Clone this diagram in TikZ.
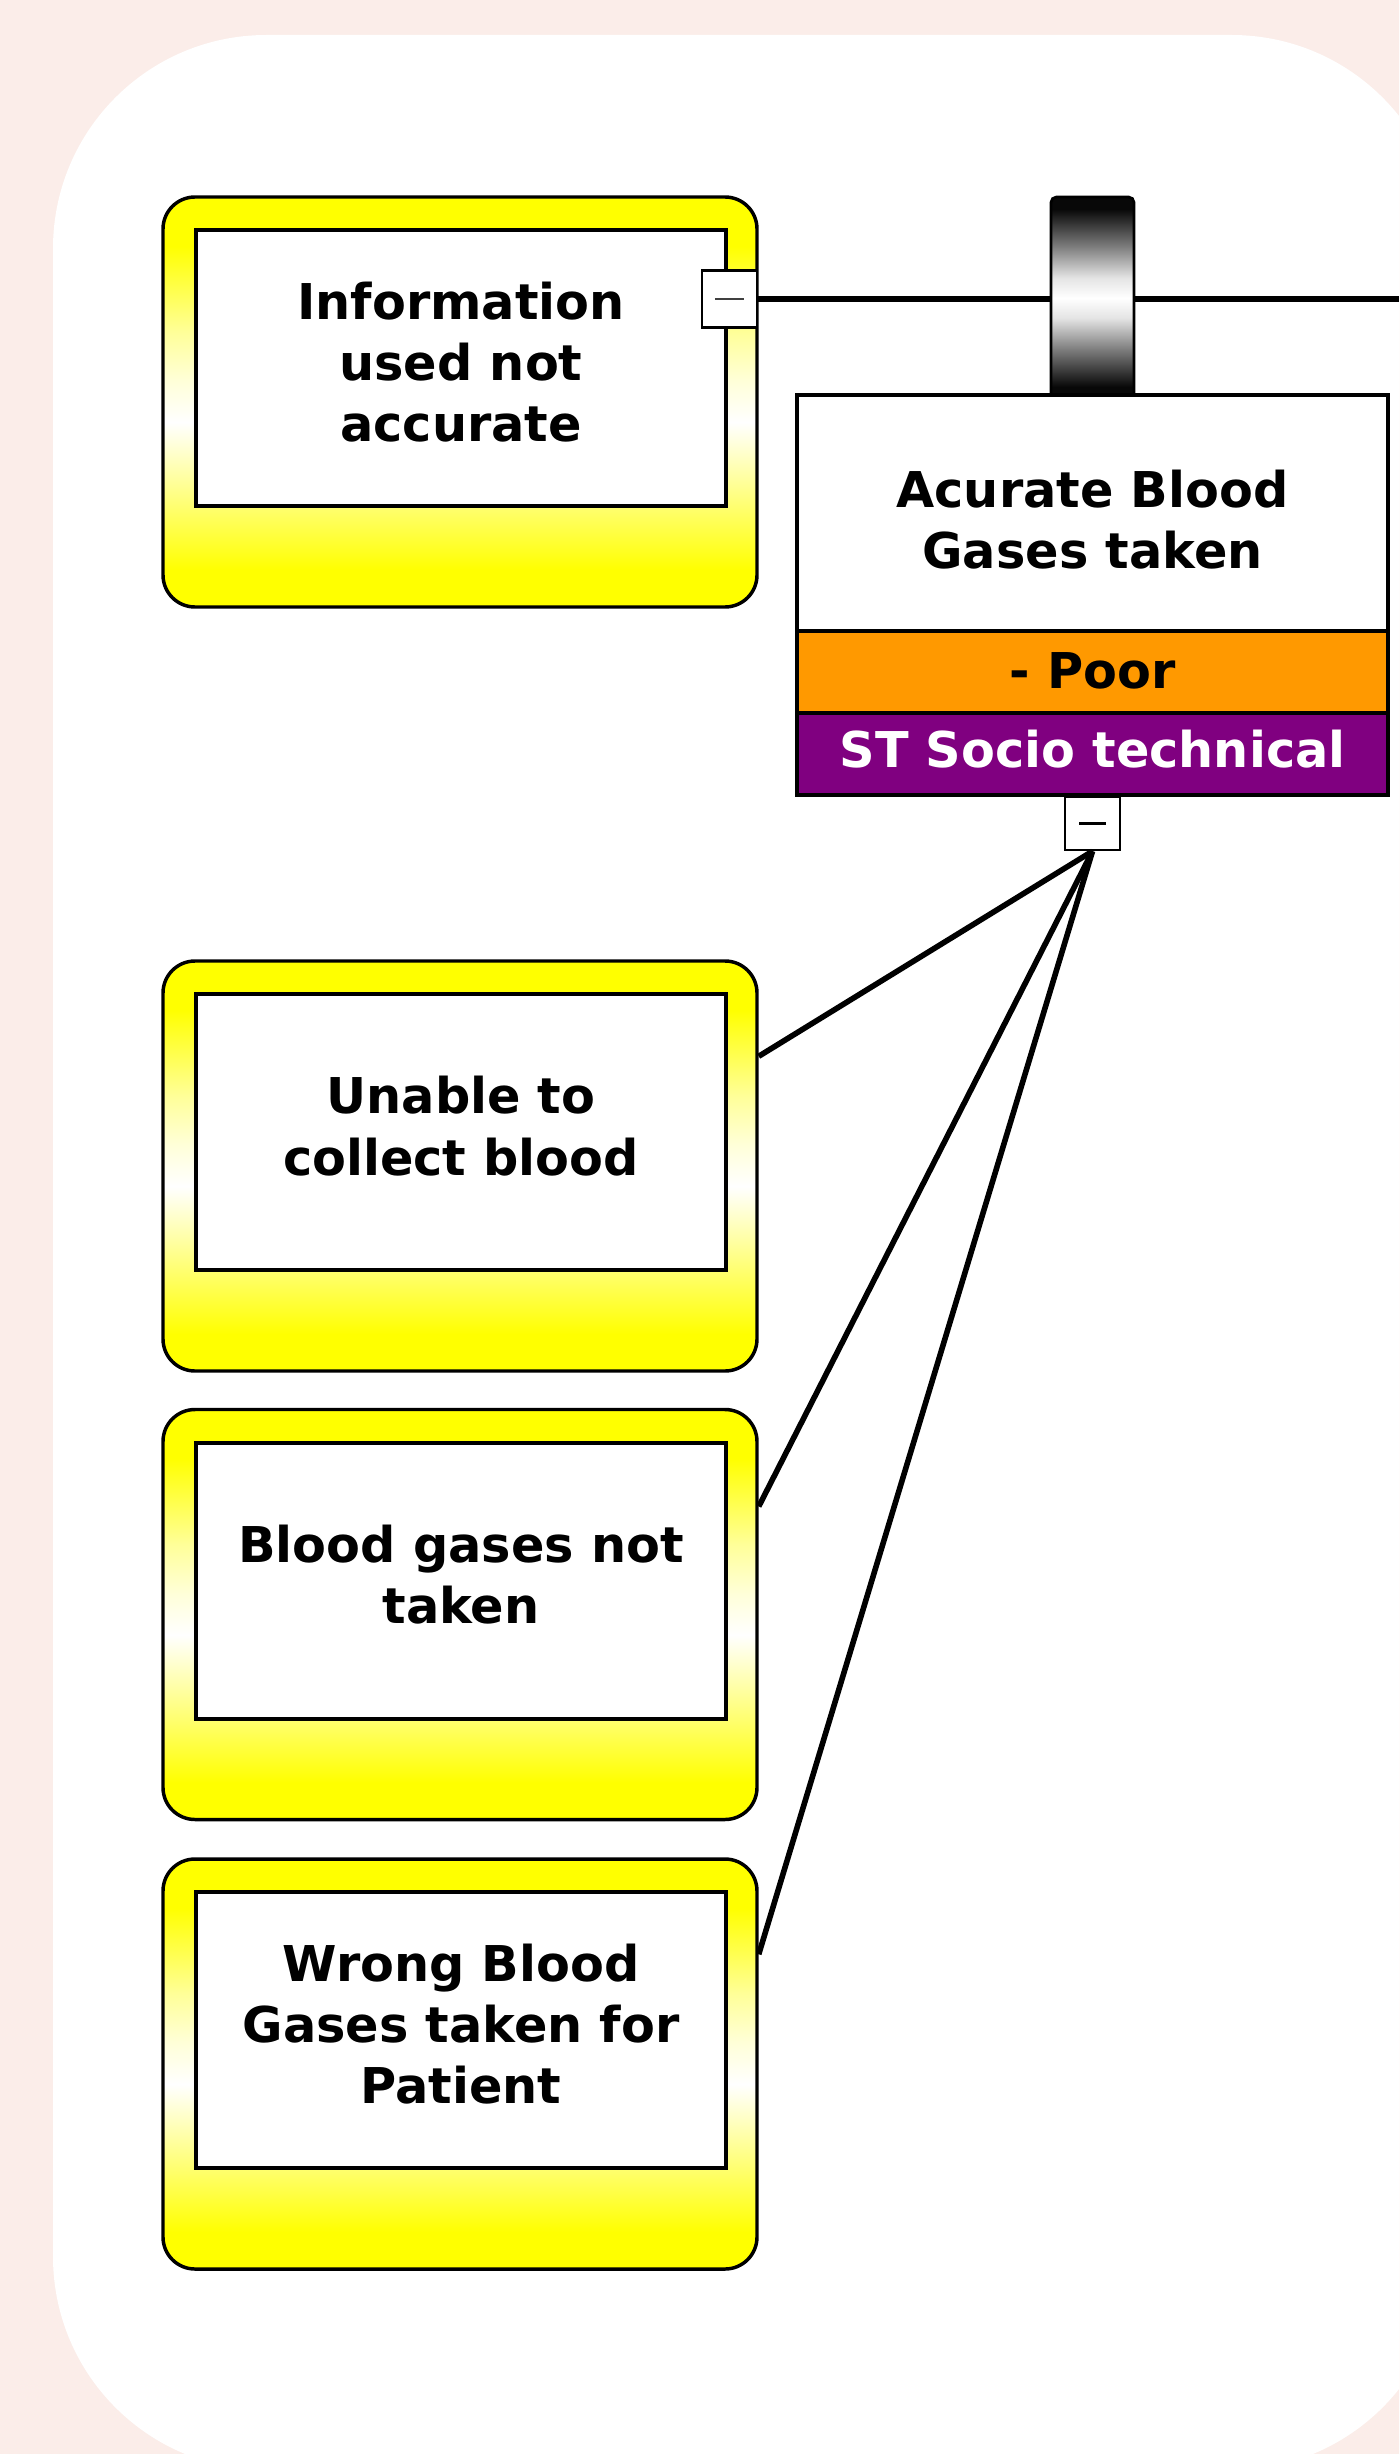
\documentclass[tikz,border=0pt]{standalone}
\usepackage{fontspec}
\setmainfont{DejaVu Sans}

\definecolor{bgpink}{RGB}{251,237,233}
\definecolor{bgpinklight}{RGB}{253,246,243}
\definecolor{cyel}{RGB}{255,255,0}
\definecolor{cyelA}{RGB}{255,255,115}
\definecolor{cyelB}{RGB}{255,255,217}
\definecolor{cyelC}{RGB}{255,255,153}
\definecolor{corange}{RGB}{255,153,0}
\definecolor{cpurple}{RGB}{128,0,128}
\definecolor{bk}{RGB}{8,8,8}
\definecolor{gm}{RGB}{128,128,128}
\definecolor{gl}{RGB}{228,228,228}

% yellow fading to white a little below the middle
\pgfdeclareverticalshading{yelshade}{100bp}{color(0bp)=(cyel); color(29.5bp)=(cyel); color(37.5bp)=(cyelA); color(47.5bp)=(white); color(52.5bp)=(cyelB); color(58.5bp)=(cyelC); color(69bp)=(cyel); color(100bp)=(cyel)}
% metallic barrier: black ends, white middle
\pgfdeclareverticalshading{barshade}{100bp}{color(0bp)=(bk); color(28bp)=(bk); color(37.5bp)=(gm); color(45bp)=(gl); color(50bp)=(white); color(55bp)=(gl); color(62.5bp)=(gm); color(72bp)=(bk); color(100bp)=(bk)}

\tikzset{
  txt/.style={font=\bfseries\fontsize{37}{46}\selectfont, align=center, inner sep=0pt},
  outerbox/.style={draw=black, line width=2.6pt, shading=yelshade, rounded corners=24pt,
    minimum width=445.5pt, minimum height=307.5pt, inner sep=0pt},
  innerbox/.style={draw=black, line width=3pt, fill=white,
    minimum width=397.5pt, minimum height=207pt, inner sep=0pt},
  minusbox/.style={draw=black, line width=1.8pt, fill=white, inner sep=0pt, minimum width=41.25pt},
  barrier/.style={draw=black, line width=2pt, shading=barshade, rounded corners=4pt,
    minimum width=62.25pt, minimum height=151.5pt, inner sep=0pt},
  mainpart/.style={draw=black, line width=2.6pt, minimum width=443.25pt, inner sep=0pt},
  link/.style={draw=black, line width=4.2pt},
}

\begin{document}
\begin{tikzpicture}[x=0.75pt, y=-0.75pt]
  \useasboundingbox (0,0) rectangle (1399,2454);
  \clip (0,0) rectangle (1399,2454);

  % page background and the white panel
  \fill[top color=bgpink, middle color=bgpinklight, bottom color=bgpink] (0,0) rectangle (1399,2454);
  \fill[white, rounded corners=160pt] (53,35) rectangle (1445,2470);

  % cause boxes
  \node[outerbox] (b1o) at (460,402) {};
  \node[innerbox] (b1) at (461,368) {};
  \node[txt] (b1t) at ([yshift=4.5pt]b1.center) {Information\\used not\\accurate};

  \node[outerbox] (b2o) at (460,1166) {};
  \node[innerbox] (b2) at (461,1132) {};
  \node[txt] (b2t) at ([yshift=4.5pt]b2.center) {Unable to\\collect blood};

  \node[outerbox] (b3o) at (460,1614.5) {};
  \node[innerbox] (b3) at (461,1580.5) {};
  \node[txt] (b3t) at ([yshift=4.5pt]b3.center) {Blood gases not\\taken};

  \node[outerbox] (b4o) at (460,2064) {};
  \node[innerbox] (b4) at (461,2030) {};
  \node[txt] (b4t) at ([yshift=4.5pt]b4.center) {Wrong Blood\\Gases taken for\\Patient};

  % collapse handle on the first box and its line to the right
  \node[minusbox, minimum height=42.75pt] (m1) at (729.5,299) {\color{black!75}\rule{22pt}{1.1pt}};
  \coordinate (rt) at (1399,299);
  \draw[link] (m1.east) -- (rt);

  % barrier sitting on the event
  \node[barrier] (bar) at (1092.5,298) {};

  % event with rating rows
  \node[mainpart, fill=white, minimum height=177pt] (title) at (1092.5,513) {};
  \node[txt] (titlet) at ([yshift=-5pt]title.center) {Acurate Blood\\Gases taken};
  \node[mainpart, fill=corange, minimum height=61.5pt] (poor) at (1092.5,672) {};
  \node[txt] (poort) at ([yshift=0.5pt]poor.center) {- Poor};
  \node[mainpart, fill=cpurple, minimum height=61.5pt] (st) at (1092.5,754) {};
  \node[txt, text=white] (stt) at ([yshift=3.5pt]st.center) {ST Socio technical};

  % collapse handle under the event
  \node[minusbox, minimum height=39.75pt] (m2) at (1092.5,823.5) {\rule{20pt}{2.6pt}};

  % connectors to the causes
  \draw[link] (m2.south) -- ([yshift=-72.75pt]b2o.north east);
  \draw[link] (m2.south) -- ([yshift=-74pt]b3o.north east);
  \draw[link] (m2.south) -- ([yshift=-72.75pt]b4o.north east);
\end{tikzpicture}
\end{document}
